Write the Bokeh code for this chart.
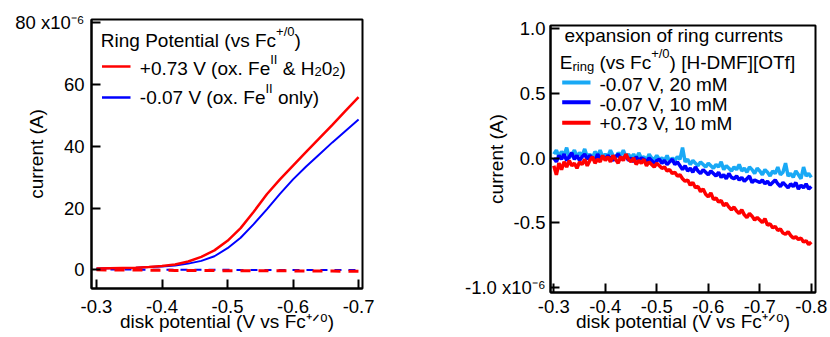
import math
from bokeh.plotting import figure
from bokeh.models import Range1d, FixedTicker, Label
from bokeh.layouts import row, column
from bokeh.embed import file_html
from bokeh.resources import INLINE

FONT = "Liberation Sans"

# ---------------- data: left panel (disk currents, units of 1e-6 A) ----------------
disk_left = [-0.30, -0.32, -0.34, -0.36, -0.38, -0.40, -0.42, -0.44, -0.46, -0.48, -0.50,
             -0.52, -0.54, -0.56, -0.58, -0.60, -0.62, -0.64, -0.66, -0.68, -0.70]
disk_pos073 = [0.4, 0.5, 0.6, 0.7, 0.9, 1.2, 1.7, 2.7, 4.2, 6.3, 9.4,
               13.5, 18.8, 24.5, 29.3, 33.8, 38.2, 42.6, 47.0, 51.5, 56.0]
disk_neg007 = [0.4, 0.5, 0.6, 0.7, 0.9, 1.1, 1.4, 2.0, 2.9, 4.4, 7.0,
               10.4, 14.8, 19.6, 24.6, 29.3, 33.5, 37.4, 41.3, 45.0, 48.7]
disk_left_dash = [-0.30, -0.34, -0.38, -0.42, -0.46, -0.50, -0.54, -0.58, -0.62, -0.66, -0.70]
ring_pos073 = [0.0, -0.1, -0.1, -0.2, -0.2, -0.3, -0.3, -0.3, -0.4, -0.4, -0.5]
ring_neg007 = [0.1, 0.1, 0.0, 0.0, 0.0, 0.0, -0.1, -0.1, -0.1, -0.1, -0.1]

left_xticks = [-0.3, -0.4, -0.5, -0.6, -0.7]
left_xlabels = ["-0.3", "-0.4", "-0.5", "-0.6", "-0.7"]
left_yticks = [0, 20, 40, 60, 80]
left_ylabels = ["0", "20", "40", "60", "80 x10\u207b\u2076"]

# ---------------- data: right panel (ring currents, units of 1e-6 A) ----------------
disk_right_start, disk_right_step, disk_right_n = -0.300, -0.005, 101
disk_right = [round(disk_right_start + disk_right_step * i, 3) for i in range(disk_right_n)]
ring_neg007_20mM = [
    0.03, 0.06, 0.01, 0.05, 0.02, 0.08, 0.00, 0.03, 0.06, 0.01,
    0.04, 0.02, 0.07, 0.01, 0.03, 0.00, 0.05, 0.02, 0.06, 0.01,
    0.03, 0.01, 0.06, 0.02, 0.00, 0.04, 0.02, 0.06, 0.01, 0.03,
    0.00, 0.03, -0.01, 0.04, 0.00, 0.01, -0.02, 0.03, 0.00, -0.01,
    0.02, -0.01, 0.00, -0.02, 0.02, -0.03, 0.00, -0.02, 0.01, -0.01,
    0.08, -0.03, -0.01, -0.05, -0.02, -0.04, -0.06, -0.03, -0.05, -0.07,
    -0.04, -0.06, -0.08, -0.05, -0.07, -0.03, -0.09, -0.06, -0.08, -0.10,
    -0.07, -0.09, -0.05, -0.10, -0.08, -0.11, -0.07, -0.09, -0.12, -0.08,
    -0.10, -0.13, -0.09, -0.11, -0.14, -0.10, -0.12, -0.07, -0.13, -0.11,
    -0.04, -0.14, -0.12, -0.15, -0.10, -0.13, -0.16, -0.07, -0.14, -0.12, -0.15]
ring_neg007_10mM = [
    0.00, -0.03, 0.02, -0.01, 0.03, -0.02, 0.01, 0.04, -0.01, 0.02,
    -0.02, 0.01, 0.03, -0.01, 0.02, 0.00, -0.02, 0.03, 0.00, 0.01,
    -0.01, 0.02, 0.00, -0.02, 0.01, 0.03, -0.01, 0.00, 0.02, -0.02,
    0.00, -0.03, 0.01, -0.02, 0.00, -0.01, -0.03, 0.00, -0.02, -0.04,
    -0.02, -0.01, -0.04, -0.02, -0.05, -0.03, -0.01, -0.05, -0.03, -0.06,
    -0.09, -0.06, -0.10, -0.08, -0.11, -0.07, -0.10, -0.12, -0.09, -0.11,
    -0.13, -0.10, -0.12, -0.14, -0.11, -0.15, -0.13, -0.16, -0.12, -0.15,
    -0.16, -0.14, -0.17, -0.15, -0.18, -0.16, -0.14, -0.19, -0.17, -0.18,
    -0.19, -0.17, -0.20, -0.18, -0.21, -0.19, -0.17, -0.20, -0.22, -0.19,
    -0.21, -0.23, -0.20, -0.22, -0.19, -0.24, -0.21, -0.23, -0.20, -0.24, -0.22]
ring_pos073_10mM = [
    -0.06, -0.13, -0.04, -0.09, -0.03, -0.07, -0.02, -0.06, -0.04, -0.08,
    -0.03, -0.05, -0.01, -0.06, -0.02, 0.01, -0.04, -0.01, -0.03, 0.02,
    -0.02, 0.01, -0.03, 0.02, -0.01, -0.04, 0.01, -0.02, 0.03, -0.01,
    -0.03, 0.00, -0.05, -0.02, -0.04, -0.01, -0.06, -0.03, -0.05, -0.07,
    -0.04, -0.06, -0.08, -0.07, -0.10, -0.09, -0.12, -0.11, -0.14, -0.13,
    -0.16, -0.18, -0.17, -0.21, -0.19, -0.23, -0.22, -0.26, -0.24, -0.28,
    -0.30, -0.27, -0.32, -0.31, -0.34, -0.33, -0.37, -0.35, -0.38, -0.40,
    -0.38, -0.41, -0.43, -0.40, -0.44, -0.46, -0.43, -0.45, -0.48, -0.46,
    -0.48, -0.50, -0.47, -0.52, -0.51, -0.54, -0.53, -0.56, -0.55, -0.58,
    -0.59, -0.57, -0.60, -0.62, -0.61, -0.63, -0.62, -0.65, -0.64, -0.67, -0.65]

right_xticks = [-0.3, -0.4, -0.5, -0.6, -0.7, -0.8]
right_xlabels = ["-0.3", "-0.4", "-0.5", "-0.6", "-0.7", "-0.8"]
right_yticks = [-1.0, -0.5, 0.0, 0.5, 1.0]
right_ylabels = ["-1.0 x10\u207b\u2076", "-0.5", "0.0", "0.5", "1.0"]

x_title = "disk potential (V vs Fc\u207a\u141f\u2070)"
y_title = "current (A)"

RED = "#ff0000"
BLUE = "#0000ff"
LBLUE = "#19a9f5"

# ---------------- text helpers ----------------
HW = {' ': 278, '\u00a0': 278, '!': 278, '(': 333, ')': 333, '+': 584, ',': 278, '-': 333,
      '.': 278, '/': 278, '&': 667, '[': 278, ']': 278,
      'A': 667, 'B': 667, 'C': 722, 'D': 722, 'E': 667, 'F': 611, 'G': 778, 'H': 722, 'I': 278,
      'J': 500, 'K': 667, 'L': 556, 'M': 833, 'N': 722, 'O': 778, 'P': 667, 'Q': 778, 'R': 722,
      'S': 667, 'T': 611, 'U': 722, 'V': 667, 'W': 944, 'X': 667, 'Y': 667, 'Z': 611,
      'a': 556, 'b': 556, 'c': 500, 'd': 556, 'e': 556, 'f': 278, 'g': 556, 'h': 556, 'i': 222,
      'j': 222, 'k': 500, 'l': 222, 'm': 833, 'n': 556, 'o': 556, 'p': 556, 'q': 556, 'r': 333,
      's': 500, 't': 278, 'u': 556, 'v': 500, 'w': 722, 'x': 500, 'y': 500, 'z': 500}


def text_width(s, size):
    return sum(HW.get(c, 556) for c in s) * size / 1000.0


MAIN = 19
SCRIPT = 13
SUP_RAISE = 9
SUB_DROP = 3.5
BASE_FIX = -4.5
NB = "\u00a0"


class Geom:
    def __init__(self, fl, ft, fw, fh, xr, yr):
        self.fl, self.ft, self.fw, self.fh, self.xr, self.yr = fl, ft, fw, fh, xr, yr

    def X(self, px):
        return self.xr[0] + (px - self.fl) / self.fw * (self.xr[1] - self.xr[0])

    def Y(self, py):
        return self.yr[1] - (py - self.ft) / self.fh * (self.yr[1] - self.yr[0])


def put(fig, g, px, py, text, size):
    fig.add_layout(Label(x=g.X(px), y=g.Y(py + BASE_FIX), text=text.replace(" ", NB),
                         text_font=FONT, text_font_size=f"{size}px", text_color="black",
                         text_align="left", text_baseline="alphabetic"))


def rich(fig, g, px, py, parts):
    for txt, kind in parts:
        if kind == "n":
            put(fig, g, px, py, txt, MAIN)
            px += text_width(txt, MAIN)
        elif kind == "sup":
            put(fig, g, px, py - SUP_RAISE, txt, SCRIPT)
            px += text_width(txt, SCRIPT)
        else:
            put(fig, g, px, py + SUB_DROP, txt, SCRIPT)
            px += text_width(txt, SCRIPT)


def key_line(fig, g, px0, px1, py, color, width):
    fig.line([g.X(px0), g.X(px1)], [g.Y(py), g.Y(py)], line_color=color, line_width=width)


def style(fig, xticks, xlabels, yticks, ylabels, xstand, ystand, xlab_stand, ylab_stand):
    if fig.title is not None:
        fig.title.visible = False
    fig.xaxis.ticker = FixedTicker(ticks=xticks)
    fig.yaxis.ticker = FixedTicker(ticks=yticks)
    fig.xaxis.major_label_overrides = dict(zip(xticks, xlabels))
    fig.yaxis.major_label_overrides = dict(zip(yticks, ylabels))
    for ax in fig.xaxis + fig.yaxis:
        ax.major_tick_in = 9
        ax.major_tick_out = 0
        ax.minor_tick_in = 0
        ax.minor_tick_out = 0
        ax.axis_line_width = 2
        ax.axis_line_color = "black"
        ax.major_tick_line_width = 2
        ax.major_tick_line_color = "black"
        ax.major_label_text_font = FONT
        ax.major_label_text_font_size = "18.5px"
        ax.major_label_text_color = "black"
        ax.axis_label_text_font = FONT
        ax.axis_label_text_font_size = f"{MAIN}px"
        ax.axis_label_text_font_style = "normal"
        ax.axis_label_text_color = "black"
    fig.xaxis.major_label_standoff = xstand
    fig.yaxis.major_label_standoff = ystand
    fig.xaxis.axis_label = x_title
    fig.yaxis.axis_label = y_title
    fig.xaxis.axis_label_standoff = xlab_stand
    fig.yaxis.axis_label_standoff = ylab_stand
    fig.xgrid.visible = False
    fig.ygrid.visible = False
    fig.outline_line_color = "black"
    fig.outline_line_width = 2
    fig.outline_line_alpha = 1.0
    fig.background_fill_color = "white"
    fig.border_fill_color = "white"


# ---------------- left figure ----------------
LX = (-0.2924, -0.706)
LY = (-6.06, 81.13)
gl = Geom(91, 19, 271, 269, LX, LY)
p1 = figure(width=420, height=337, min_border_left=91, min_border_right=58,
            min_border_top=19, min_border_bottom=49,
            x_range=Range1d(*LX), y_range=Range1d(*LY),
            output_backend="svg", toolbar_location=None)
style(p1, left_xticks, left_xlabels, left_yticks, left_ylabels, 11, 7, -5, -35)

p1.line(disk_left_dash, ring_neg007, line_color=BLUE, line_width=2, line_dash="7 7")
p1.line(disk_left_dash, ring_pos073, line_color=RED, line_width=3, line_dash="10 8")
p1.line(disk_left, disk_neg007, line_color=BLUE, line_width=2)
p1.line(disk_left, disk_pos073, line_color=RED, line_width=2.5)

rich(p1, gl, 100.3, 44.7, [("Ring Potential (vs Fc", "n"), ("+/0", "sup"), (")", "n")])
key_line(p1, gl, 101.5, 130, 66, RED, 2.5)
rich(p1, gl, 139.3, 72, [("+0.73 V (ox. Fe", "n"), ("II", "sup"), (" & H", "n"), ("2", "sub"),
                         ("0", "n"), ("2", "sub"), (")", "n")])
key_line(p1, gl, 101.5, 130, 97, BLUE, 2.5)
rich(p1, gl, 139.3, 101.5, [("-0.07 V (ox. Fe", "n"), ("II", "sup"), (" only)", "n")])

# ---------------- right figure ----------------
RX = (-0.2936, -0.8082)
RY = (-1.041, 1.0256)
gr = Geom(130, 25, 265, 267, RX, RY)
p2 = figure(width=410, height=337, min_border_left=130, min_border_right=15,
            min_border_top=25, min_border_bottom=45,
            x_range=Range1d(*RX), y_range=Range1d(*RY),
            output_backend="svg", toolbar_location=None)
style(p2, right_xticks, right_xlabels, right_yticks, right_ylabels, 7, 5, -5, -45)

p2.line(disk_right, ring_neg007_20mM, line_color=LBLUE, line_width=3.5)
p2.line(disk_right, ring_neg007_10mM, line_color=BLUE, line_width=3.5)
p2.line(disk_right, ring_pos073_10mM, line_color=RED, line_width=3.5)

put(p2, gr, 144, 39.3, "expansion of ring currents", MAIN)
rich(p2, gr, 139.3, 66.7, [("E", "n"), ("ring", "sub"), (" (vs Fc", "n"), ("+/0", "sup"),
                           (") [H-DMF][OTf]", "n")])
key_line(p2, gr, 141.7, 170, 82, LBLUE, 4)
put(p2, gr, 179, 88.3, "-0.07 V, 20 mM", MAIN)
key_line(p2, gr, 141.7, 170, 101.7, BLUE, 4)
put(p2, gr, 179, 108.3, "-0.07 V, 10 mM", MAIN)
key_line(p2, gr, 141.7, 170, 122.3, RED, 4)
put(p2, gr, 179, 127.7, "+0.73 V, 10 mM", MAIN)

layout = row(column(p1), column(p2))
open("out.html", "w").write(file_html(layout, INLINE))
